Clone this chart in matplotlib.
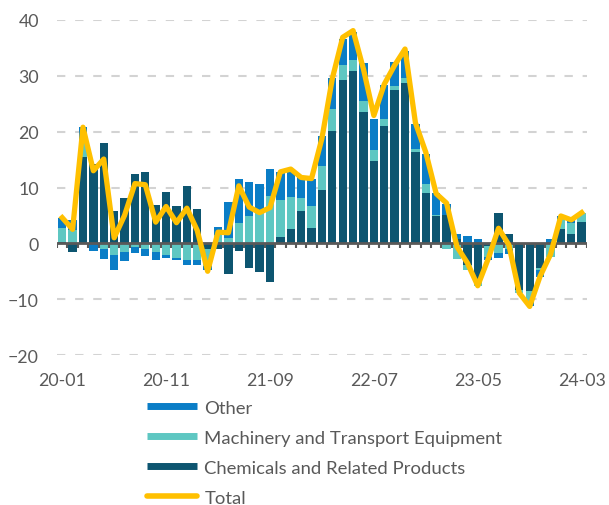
import numpy as np
import matplotlib
matplotlib.use("Agg")
import matplotlib.pyplot as plt
from matplotlib.lines import Line2D

# Monthly contributions, 2020-01 to 2024-03
chemicals = [0.3, -1.6, 15.5, 14.3, 17.9, 5.8, 8.2, 12.4, 12.8, 6.8,
             9.2, 6.6, 10.2, 6.2, -1.0, -1.0, -5.5, -1.3, -4.4, -5.2,
             -7.0, 1.1, 2.6, 5.8, 2.8, 9.5, 20.2, 29.3, 30.8, 23.6,
             14.8, 21.1, 27.5, 28.7, 16.4, 9.1, 4.9, 5.0, 0.8, -3.8,
             -6.6, -0.5, 5.4, 1.6, -8.4, -8.5, -4.5, 0.0, 2.5, 1.6,
             3.8]
machinery = [2.4, 2.4, 3.0, 0.0, -1.0, -2.0, -1.5, -0.6, -1.0, -1.5,
             -2.0, -2.6, -3.0, -3.0, -3.0, 1.5, 1.0, 3.6, 4.9, 6.0,
             8.4, 6.6, 5.7, 2.4, 3.9, 4.4, 3.9, 2.6, 2.0, 1.9,
             1.9, 1.2, 0.6, 1.0, 0.5, 1.5, 0.1, -1.1, -2.8, -1.0,
             -1.0, -2.0, -1.8, -1.0, -0.5, -2.0, -0.3, -2.5, 1.8, 2.0,
             1.7]
other = [1.8, 1.7, 2.3, -1.3, -1.8, -2.8, -1.7, -1.1, -1.3, -1.5,
         -0.6, -0.3, -0.9, -0.9, -0.8, 1.5, 6.4, 8.0, 6.0, 4.7,
         5.0, 5.1, 4.9, 3.6, 4.8, 5.4, 5.6, 4.7, 5.0, 6.8,
         5.6, 6.1, 4.3, 4.8, 4.5, 5.4, 4.0, 2.0, 0.8, 1.4,
         0.7, -0.5, -0.9, -0.9, 0.0, -0.8, -1.2, 0.7, 0.6, 0.6,
         0.0]
total = [4.6, 2.5, 20.8, 13.0, 15.1, 1.0, 5.0, 10.7, 10.5, 3.8,
         6.6, 3.7, 6.3, 2.3, -5.0, 2.0, 1.9, 10.3, 6.5, 5.5,
         6.4, 12.8, 13.3, 11.8, 11.6, 18.8, 29.5, 36.9, 38.1, 31.2,
         22.9, 28.5, 31.9, 34.8, 21.6, 16.3, 8.9, 7.2, -0.6, -3.5,
         -7.6, -2.8, 2.7, -0.3, -8.9, -11.3, -5.9, -2.0, 4.9, 4.2,
         5.5]
tick_labels = ["20-01", "20-11", "21-09", "22-07", "23-05", "24-03"]

series = [("Chemicals and Related Products", chemicals, "#0d5570"),
          ("Machinery and Transport Equipment", machinery, "#5ec7c2"),
          ("Other", other, "#0a7dc6")]
total_color = "#ffc000"
text_color = "#595959"

plt.rcParams["font.family"] = ["Lato", "DejaVu Sans"]

fig = plt.figure(figsize=(6.09, 5.06), dpi=100)
ax = fig.add_axes([0.0936, 0.2964, 0.870, 0.6621])

x = np.arange(len(total))
pos_base = np.zeros(len(x))
neg_base = np.zeros(len(x))
for name, vals, color in series:
    v = np.array(vals)
    base = np.where(v >= 0, pos_base, neg_base)
    ax.bar(x, v, bottom=base, width=0.8, color=color, linewidth=0, zorder=2)
    pos_base = pos_base + np.where(v >= 0, v, 0)
    neg_base = neg_base + np.where(v < 0, v, 0)

ax.plot(x, total, color=total_color, lw=3.8, solid_joinstyle="round", zorder=4)

# zero axis with small ticks between months
ax.axhline(0, color="#595959", lw=2, zorder=3)
ax.vlines(np.arange(len(x) + 1) - 0.5, -0.9, 0, color="#595959", lw=1.5, zorder=3)

ax.set_xlim(-0.5, len(x) - 0.5)
ax.set_ylim(-20, 40)
ax.set_yticks([-20, -10, 0, 10, 20, 30, 40])
ax.set_xticks(np.arange(0, len(x), 10))
ax.set_xticklabels(tick_labels)
for yv in [-20, -10, 10, 20, 30, 40]:
    ax.axhline(yv, color="#d3d3d3", lw=1.5, ls=(0, (4, 4.7)), zorder=1)

for s in ax.spines.values():
    s.set_visible(False)
ax.tick_params(axis="both", length=0, labelsize=12.8, colors=text_color)
ax.tick_params(axis="y", pad=13)
ax.tick_params(axis="x", pad=12)

handles = [Line2D([], [], color="#0a7dc6", lw=5, solid_capstyle="butt"),
           Line2D([], [], color="#5ec7c2", lw=5, solid_capstyle="butt"),
           Line2D([], [], color="#0d5570", lw=5, solid_capstyle="butt"),
           Line2D([], [], color=total_color, lw=4, solid_capstyle="round")]
labels = ["Other", "Machinery and Transport Equipment",
          "Chemicals and Related Products", "Total"]
leg = fig.legend(handles, labels, loc="upper left", bbox_to_anchor=(0.241, 0.208),
                 frameon=False, fontsize=13.3, handlelength=2.7, handletextpad=0.42,
                 labelspacing=0.76, borderpad=0, borderaxespad=0)
for t in leg.get_texts():
    t.set_color(text_color)

fig.savefig("out.png", dpi=100)
